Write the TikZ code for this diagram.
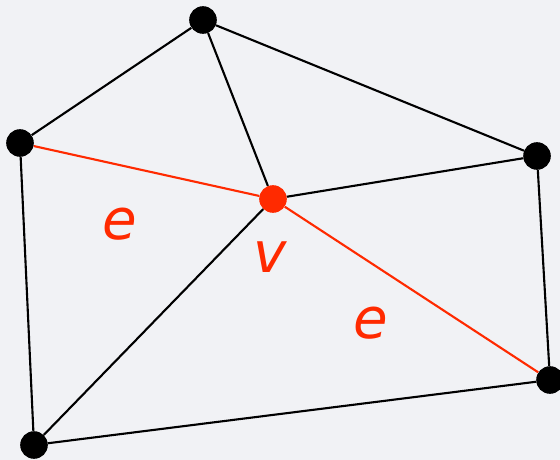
\documentclass[tikz,border=0pt]{standalone}
\usepackage{fontspec}
\setsansfont{DejaVu Sans}
\usetikzlibrary{positioning}
\definecolor{meshred}{HTML}{FF2A00}
\definecolor{meshbg}{HTML}{F1F2F5}

\begin{document}
\begin{tikzpicture}[x=0.025cm, y=-0.025cm,
  vertex/.style={circle, fill=black, inner sep=0pt, minimum size=0.69cm},
  edge/.style={line width=1.5pt, draw=black},
  redge/.style={line width=1.5pt, draw=meshred},
  lbl/.style={inner sep=0pt, text=meshred, font=\sffamily\itshape\fontsize{40}{44}\selectfont}]
  % Background
  \fill[meshbg] (0,0) rectangle (560,460);
  \useasboundingbox (0,0) rectangle (560,460);

  % Vertices
  \node[vertex] (top) at (203, 20) {};
  \node[vertex] (lft) at (20, 143) {};
  \node[vertex, fill=meshred] (v) at (273, 199) {};
  \node[vertex] (rgt) at (537, 156) {};
  \node[vertex] (br) at (550, 380) {};
  \node[vertex] (bl) at (34, 445) {};

  % Edges
  \draw[edge] (top) -- (lft);
  \draw[edge] (top) -- (v);
  \draw[edge] (top) -- (rgt);
  \draw[edge] (lft) -- (bl);
  \draw[edge] (v) -- (rgt);
  \draw[edge] (v) -- (bl);
  \draw[edge] (rgt) -- (br);
  \draw[edge] (bl) -- (br);

  % Red edges
  \draw[redge] (lft) -- (v);
  \draw[redge] (v) -- (br);

  % Labels
  \node[lbl] (e1) at (120, 224) {e};
  \node[lbl] (vl) at (270, 257) {v};
  \node[lbl] (e2) at (371, 323) {e};
\end{tikzpicture}
\end{document}
